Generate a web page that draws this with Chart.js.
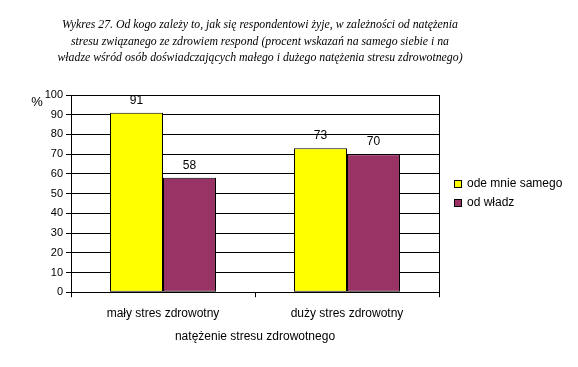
<!DOCTYPE html>
<html>
<head>
<meta charset="utf-8">
<script src="https://cdn.jsdelivr.net/npm/chart.js@4/dist/chart.umd.min.js"></script>
<style>
  html, body { margin: 0; padding: 0; background: #fff; }
  #wrap { width: 578px; height: 367px; }
</style>
</head>
<body>
<div id="wrap"><canvas id="stressChart" width="578" height="367"></canvas></div>
<script>
// dane
const categories = ['mały stres zdrowotny', 'duży stres zdrowotny'];
const selfValues = [91, 73];       // ode mnie samego
const authorityValues = [58, 70];  // od władz
const seriesNames = ['ode mnie samego', 'od władz'];
const seriesColors = ['#ffff00', '#993366'];
const titleLines = [
  'Wykres 27. Od kogo zależy to, jak się respondentowi żyje, w zależności od natężenia',
  'stresu związanego ze zdrowiem respond (procent wskazań na samego siebie i na',
  'władze wśród osób doświadczających małego i dużego natężenia stresu zdrowotnego)'
];
const xAxisTitle = 'natężenie stresu zdrowotnego';

const sansFont = 'Liberation Sans, Arial, sans-serif';

// tytuł, ramka, legenda, wartości nad słupkami i znak %
const decorations = {
  id: 'decorations',
  afterDatasetsDraw(chart) {
    const ctx = chart.ctx;
    const area = chart.chartArea;
    ctx.save();

    // tytuł (kursywa, wyśrodkowany nad całym wykresem jak w oryginale)
    ctx.fillStyle = '#000';
    ctx.font = 'italic 11.8px Liberation Serif, serif';
    ctx.textAlign = 'center';
    ctx.textBaseline = 'alphabetic';
    titleLines.forEach((line, i) => ctx.fillText(line, 260, 28 + i * 16.5));

    // prawa krawędź obszaru wykresu
    ctx.strokeStyle = '#000';
    ctx.lineWidth = 1;
    ctx.beginPath();
    ctx.moveTo(Math.round(area.right) + 0.5, area.top);
    ctx.lineTo(Math.round(area.right) + 0.5, area.bottom);
    ctx.stroke();

    // wartości nad słupkami
    ctx.font = '12px ' + sansFont;
    ctx.textBaseline = 'middle';
    chart.data.datasets.forEach((ds, i) => {
      chart.getDatasetMeta(i).data.forEach((bar, j) => {
        ctx.fillText(ds.data[j], bar.x, bar.y - 12.5);
      });
    });

    // znak % przy osi Y
    ctx.font = '13px ' + sansFont;
    ctx.textAlign = 'center';
    ctx.fillText('%', area.left - 34, area.top + 7);

    // legenda
    ctx.font = '12px ' + sansFont;
    ctx.textAlign = 'left';
    seriesNames.forEach((name, i) => {
      const y = 184 + i * 19;
      ctx.fillStyle = seriesColors[i];
      ctx.fillRect(454.5, y - 3.5, 7, 7);
      ctx.strokeRect(454.5, y - 3.5, 7, 7);
      ctx.fillStyle = '#000';
      ctx.fillText(name, 467, y);
    });

    ctx.restore();
  }
};

const ctx = document.getElementById('stressChart').getContext('2d');
new Chart(ctx, {
  type: 'bar',
  data: {
    labels: categories,
    datasets: [
      {
        label: seriesNames[0],
        data: selfValues,
        backgroundColor: seriesColors[0],
        borderColor: '#000',
        borderWidth: 1,
        borderSkipped: false,
        categoryPercentage: 0.576,
        barPercentage: 1.0
      },
      {
        label: seriesNames[1],
        data: authorityValues,
        backgroundColor: seriesColors[1],
        borderColor: '#000',
        borderWidth: 1,
        borderSkipped: false,
        categoryPercentage: 0.576,
        barPercentage: 1.0
      }
    ]
  },
  options: {
    responsive: false,
    animation: false,
    layout: { padding: { left: 0, right: 139, top: 95, bottom: 19 } },
    plugins: {
      title: { display: false },
      legend: { display: false },
      tooltip: { enabled: false }
    },
    scales: {
      x: {
        grid: {
          offset: true,
          drawOnChartArea: false,
          color: '#000',
          tickLength: 5
        },
        border: { color: '#000' },
        ticks: { color: '#000', font: { family: sansFont, size: 12 }, padding: 9 },
        title: {
          display: true,
          text: xAxisTitle,
          color: '#000',
          font: { family: sansFont, size: 12 },
          padding: { top: 0 }
        }
      },
      y: {
        min: 0,
        max: 100,
        afterFit(scale) { scale.width = 71; },
        ticks: { stepSize: 10, color: '#000', font: { family: sansFont, size: 11 }, padding: 3 },
        grid: { color: '#000', tickLength: 5 },
        border: { color: '#000' }
      }
    }
  },
  plugins: [decorations]
});
</script>
</body>
</html>
